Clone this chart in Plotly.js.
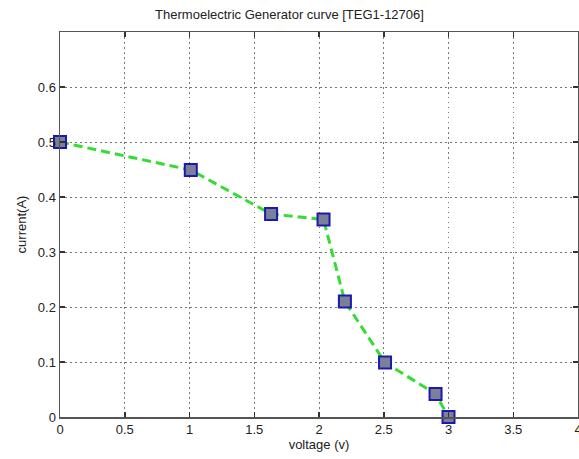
<!DOCTYPE html>
<html><head><meta charset="utf-8">
<script src="https://cdn.plot.ly/plotly-3.0.1.min.js"></script>
<style>html,body{margin:0;padding:0;background:#fff;}#chart{width:579px;height:459px;}</style>
</head><body><div id="chart"></div>
<script>
const voltage = [0, 1.01, 1.63, 2.035, 2.2, 2.51, 2.9, 3.0];
const current = [0.5, 0.449, 0.369, 0.359, 0.21, 0.099, 0.042, 0.0];
const xTicks = [0, 0.5, 1, 1.5, 2, 2.5, 3, 3.5, 4];
const xTickLabels = ['0','0.5','1','1.5','2','2.5','3','3.5','4'];
const yTicks = [0, 0.1, 0.2, 0.3, 0.4, 0.5, 0.6];
const yTickLabels = ['0','0.1','0.2','0.3','0.4','0.5','0.6'];

const font = {family: 'Liberation Sans, Arial, sans-serif', size: 13, color: '#222'};
const trace = {
  x: voltage, y: current, type: 'scatter', mode: 'lines+markers',
  line: {color: '#33dd33', width: 3, dash: '9px,5px'},
  marker: {symbol: 'square', size: 12, color: '#7c7f98', line: {color: '#1a1ab0', width: 2}},
  cliponaxis: false
};
const axisCommon = {
  showline: true, linecolor: '#555', linewidth: 1.5, mirror: 'ticks',
  ticks: 'inside', ticklen: 5, tickcolor: '#333', tickwidth: 1.5,
  showgrid: true, gridcolor: '#777', griddash: '1.5px,3.5px', gridwidth: 1,
  zeroline: false, tickfont: font, ticklabeloverflow: 'allow'
};
const layout = {
  width: 579, height: 459,
  margin: {l: 60, r: 1, t: 32, b: 42},
  paper_bgcolor: '#fff', plot_bgcolor: '#fff',
  showlegend: false,
  title: {text: 'Thermoelectric Generator curve [TEG1-12706]', font: {family: font.family, size: 13, color: '#222'}, x: 0.5, xanchor: 'center', y: 0.978, yanchor: 'top'},
  xaxis: Object.assign({}, axisCommon, {range: [0, 4], tickvals: xTicks, ticktext: xTickLabels,
    title: {text: 'voltage (v)', font: font, standoff: 4}}),
  yaxis: Object.assign({}, axisCommon, {range: [0, 0.7], tickvals: yTicks, ticktext: yTickLabels,
    title: {text: 'current(A)', font: font, standoff: 8}})
};
Plotly.newPlot('chart', [trace], layout, {displayModeBar: false, staticPlot: true});
</script></body></html>
